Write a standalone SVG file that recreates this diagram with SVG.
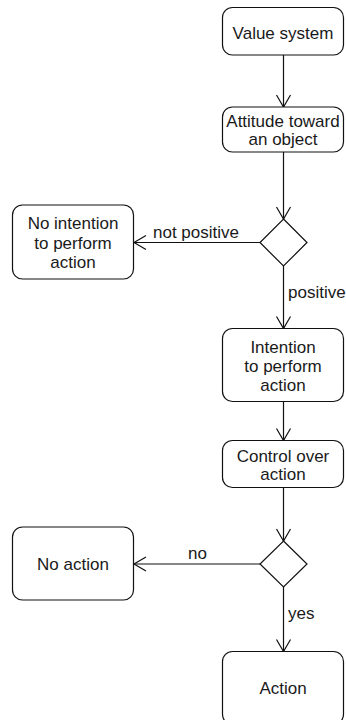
<svg xmlns="http://www.w3.org/2000/svg" width="346" height="720" viewBox="0 0 346 720">
<defs>
<marker id="open" viewBox="-14 -9 16 18" refX="0" refY="0" markerWidth="16" markerHeight="18" markerUnits="userSpaceOnUse" orient="auto">
<path d="M -12 -7 L 0 0 L -12 7" fill="none" stroke="#111" stroke-width="1.2"/>
</marker>
</defs>
<style>
.box{fill:#fff;stroke:#111;stroke-width:1.2}
.dia{fill:#fff;stroke:#111;stroke-width:1.2}
.edge{fill:none;stroke:#111;stroke-width:1.2;marker-end:url(#open)}
text{font-family:"Liberation Sans",Arial,Helvetica,sans-serif;font-size:17px;fill:#1a1a1a}
.c{text-anchor:middle}
</style>
<rect width="346" height="720" fill="#fff"/>
<g id="connectors">
<line class="edge" x1="283.5" y1="55" x2="283.5" y2="107"/>
<line class="edge" x1="283.5" y1="152" x2="283.5" y2="219"/>
<line class="edge" x1="260" y1="242.5" x2="134" y2="242.5"/>
<line class="edge" x1="283.5" y1="266" x2="283.5" y2="328.5"/>
<line class="edge" x1="283.5" y1="401.5" x2="283.5" y2="440.5"/>
<line class="edge" x1="283.5" y1="487.5" x2="283.5" y2="541"/>
<line class="edge" x1="260" y1="564" x2="134" y2="564"/>
<line class="edge" x1="283.5" y1="587" x2="283.5" y2="651.5"/>
<text x="153" y="237.5">not positive</text>
<text x="288" y="298">positive</text>
<text class="c" x="197.5" y="558.5">no</text>
<text x="288" y="618.5">yes</text>
</g>
<g id="value-system">
<rect class="box" x="222.5" y="7.5" width="121" height="47.5" rx="10"/>
<text class="c" x="283" y="38.5">Value system</text>
</g>
<g id="attitude">
<rect class="box" x="222.5" y="107" width="121" height="45" rx="10"/>
<text class="c" x="283" y="126.5">Attitude toward</text>
<text class="c" x="283" y="145">an object</text>
</g>
<g id="decision-1">
<polygon class="dia" points="283.5,219 307,242.5 283.5,266 260,242.5"/>
</g>
<g id="no-intention">
<rect class="box" x="12.5" y="205" width="121" height="74" rx="10"/>
<text class="c" x="73" y="228.5">No intention</text>
<text class="c" x="73" y="248.5">to perform</text>
<text class="c" x="73" y="268">action</text>
</g>
<g id="intention">
<rect class="box" x="222.5" y="328.5" width="121" height="73" rx="10"/>
<text class="c" x="283" y="352.5">Intention</text>
<text class="c" x="283" y="371.5">to perform</text>
<text class="c" x="283" y="391">action</text>
</g>
<g id="control">
<rect class="box" x="222.5" y="440.5" width="121" height="47" rx="10"/>
<text class="c" x="283" y="461.5">Control over</text>
<text class="c" x="283" y="480">action</text>
</g>
<g id="decision-2">
<polygon class="dia" points="283.5,541 307,564 283.5,587 260,564"/>
</g>
<g id="no-action">
<rect class="box" x="12.5" y="527" width="121" height="73" rx="10"/>
<text class="c" x="73" y="570">No action</text>
</g>
<g id="action">
<rect class="box" x="222.5" y="651.5" width="121" height="73" rx="10"/>
<text class="c" x="283" y="693.5">Action</text>
</g>
</svg>
